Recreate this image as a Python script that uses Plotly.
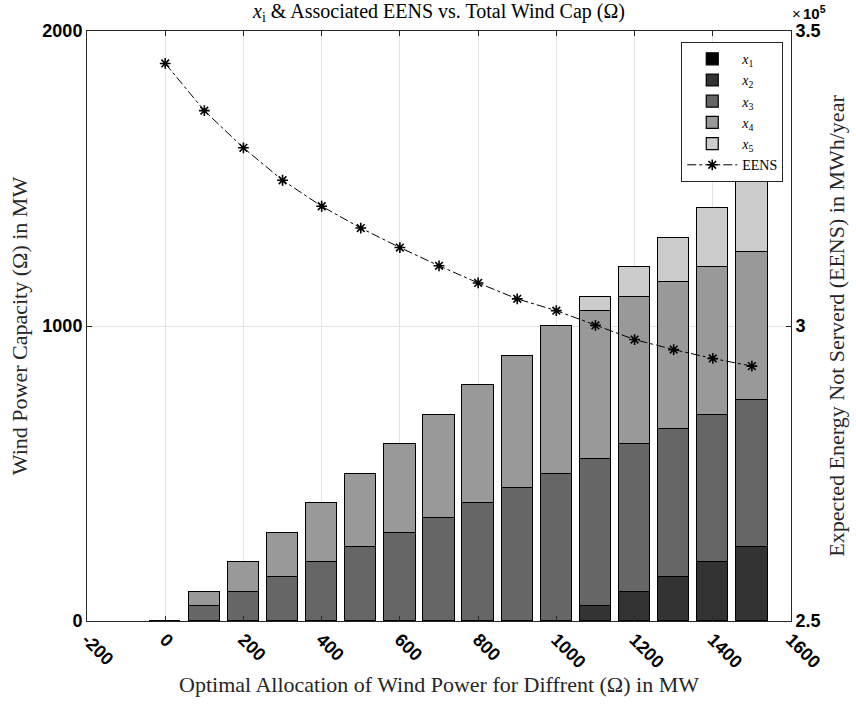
import plotly.graph_objects as go

# ---- data ----
omega = [0, 100, 200, 300, 400, 500, 600, 700, 800, 900, 1000, 1100, 1200, 1300, 1400, 1500]
x1 = [0, 0, 0, 0, 0, 0, 0, 0, 0, 0, 0, 0, 0, 0, 0, 0]
x2 = [0, 0, 0, 0, 0, 0, 0, 0, 0, 0, 0, 50, 100, 150, 200, 250]
x3 = [0, 50, 100, 150, 200, 250, 300, 350, 400, 450, 500, 500, 500, 500, 500, 500]
x4 = [0, 50, 100, 150, 200, 250, 300, 350, 400, 450, 500, 500, 500, 500, 500, 500]
x5 = [0, 0, 0, 0, 0, 0, 0, 0, 0, 0, 0, 50, 100, 150, 200, 250]
eens = [344500, 336500, 330200, 324700, 320300, 316600, 313300, 310200,
        307300, 304600, 302600, 300100, 297700, 296000, 294500, 293200]

series_names = ["<i>x</i><sub>1</sub>", "<i>x</i><sub>2</sub>", "<i>x</i><sub>3</sub>",
                "<i>x</i><sub>4</sub>", "<i>x</i><sub>5</sub>"]
series_colors = ["#000000", "#333333", "#666666", "#999999", "#cccccc"]
x_ticks = [-200, 0, 200, 400, 600, 800, 1000, 1200, 1400, 1600]
x_ticktext = ["-200", "0", "200", "400", "600", "800", "1000", "1200", "1400", "1600"]
y_ticks = [0, 1000, 2000]
y2_ticks = [250000, 300000, 350000]
y2_ticktext = ["2.5", "3", "3.5"]

SERIF = "Liberation Serif"
SANS = "Liberation Sans"
AX = "#262626"
GRID = "#e3e3e3"
TICKFONT = dict(family=SANS, size=18, color="#000000", weight="bold")
TITLEFONT = dict(family=SERIF, size=22, color="#262626")

fig = go.Figure()
for name, vals, col in zip(series_names, [x1, x2, x3, x4, x5], series_colors):
    fig.add_trace(go.Bar(x=omega, y=vals, name=name, width=80,
                         marker=dict(color=col, line=dict(color="#000000", width=1.2)),
                         yaxis="y"))

fig.add_trace(go.Scatter(x=omega, y=eens, name="EENS", yaxis="y2", mode="lines+markers",
                         line=dict(color="#000000", width=1, dash="dashdot"),
                         marker=dict(symbol="asterisk-open", size=9, color="#000000",
                                     line=dict(color="#000000", width=1.6))))

fig.update_layout(
    width=856, height=704,
    margin=dict(l=87, r=61, t=31, b=80),
    paper_bgcolor="white", plot_bgcolor="white",
    barmode="stack", bargap=0,
    showlegend=True,
    title=dict(text="<i>x</i><sub>i</sub> & Associated EENS vs. Total Wind Cap (Ω)",
               x=0.5, xref="paper", xanchor="center", y=0.984, yanchor="middle",
               font=dict(family=SERIF, size=20, color="#000000")),
    xaxis=dict(range=[-200, 1600], tickvals=x_ticks, ticktext=x_ticktext, tickangle=45,
               tickfont=TICKFONT,
               ticks="inside", ticklen=5, tickcolor=AX, showline=True, linecolor=AX,
               linewidth=1, mirror="ticks", showgrid=True, gridcolor=GRID, gridwidth=1,
               zeroline=False,
               title=dict(text="Optimal Allocation of Wind Power for Diffrent (Ω) in MW",
                          font=TITLEFONT, standoff=4)),
    yaxis=dict(range=[0, 2000], tickvals=y_ticks,
               tickfont=TICKFONT,
               ticks="inside", ticklen=5, tickcolor=AX, showline=True, linecolor=AX,
               linewidth=1, showgrid=True, gridcolor=GRID, zeroline=False,
               title=dict(text="Wind Power Capacity (Ω) in MW",
                          font=TITLEFONT, standoff=8)),
    yaxis2=dict(range=[250000, 350000], tickvals=y2_ticks, ticktext=y2_ticktext,
                overlaying="y", side="right",
                tickfont=TICKFONT,
                ticks="inside", ticklen=5, tickcolor=AX, showline=True, linecolor=AX,
                linewidth=1, showgrid=False, zeroline=False,
                title=dict(text="Expected Energy Not Serverd (EENS) in MWh/year",
                           font=TITLEFONT, standoff=8)),
    legend=dict(x=0.989, y=0.981, xanchor="right", yanchor="top",
                traceorder="normal", bgcolor="white", bordercolor="#262626", borderwidth=1,
                font=dict(family=SERIF, size=14, color="#000000"), tracegroupgap=0,
                itemwidth=50),
    annotations=[
        dict(text="×", xref="paper", yref="paper",
             x=1.0, y=1.0, xanchor="left", yanchor="bottom", yshift=7, xshift=-1,
             showarrow=False, font=dict(family=SANS, size=15, color="#000000")),
        dict(text="<b>10<sup>5</sup></b>", xref="paper", yref="paper",
             x=1.0, y=1.0, xanchor="left", yanchor="bottom", yshift=7, xshift=10,
             showarrow=False, font=dict(family=SANS, size=15, color="#000000")),
    ],
)

fig.write_html("out.html")
